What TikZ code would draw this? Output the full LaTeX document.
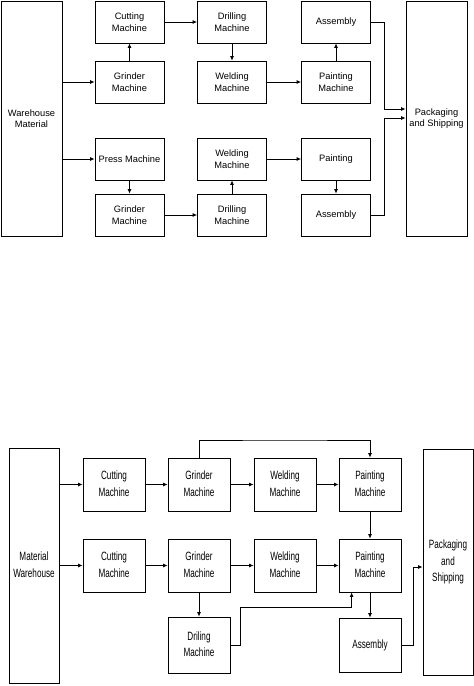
\documentclass[tikz,border=0pt]{standalone}
\usepackage{fontspec}
\setmainfont{Liberation Sans}
\usepackage{graphicx}
\usetikzlibrary{arrows.meta}
\newcommand{\narrowtxt}[1]{\scalebox{0.68}[1]{\begin{tabular}{@{}c@{}}#1\end{tabular}}}
\tikzset{
  box/.style={draw,line width=.8pt,minimum width=69pt,minimum height=42pt,align=center,
    inner sep=1pt,font=\fontsize{9.3}{11.5}\selectfont},
  tallbox/.style={box,minimum width=61pt,minimum height=235pt},
  nbox/.style={draw,line width=.8pt,minimum width=62pt,minimum height=53pt,inner sep=1pt,
    font=\fontsize{12}{16.5}\selectfont},
  flow/.style={line width=.8pt,-{Latex[length=4.5pt,width=4pt]}}
}

\begin{document}
\begin{tikzpicture}[x=1pt,y=-1pt]
          \useasboundingbox (0,0) rectangle (474,686);
          % first layout
          \begin{scope}
            \node[tallbox] (wm) at (31.5,118.5) {Warehouse\\Material};
            \node[tallbox] (pack) at (436.5,118.5) {Packaging\\and Shipping};
            \node[box] (cut) at (129.5,22) {Cutting\\Machine};
            \node[box] (gr1) at (129.5,82) {Grinder\\Machine};
            \node[box] (dri) at (232,22) {Drilling\\Machine};
            \node[box] (wel) at (232,82) {Welding\\Machine};
            \node[box] (asm) at (336,22) {Assembly};
            \node[box] (pnt) at (336,82) {Painting\\Machine};
            \node[box] (press) at (129.5,159) {Press Machine};
            \node[box] (gr2) at (129.5,215) {Grinder\\Machine};
            \node[box] (wel2) at (232,159) {Welding\\Machine};
            \node[box] (dri2) at (232,215) {Drilling\\Machine};
            \node[box] (pnt2) at (336,159) {Painting};
            \node[box] (asm2) at (336,215) {Assembly};
            \coordinate (j1) at (384,109);
            \coordinate (j2) at (384,118);
            \draw[flow] (wm.east|-gr1) -- (gr1);
            \draw[flow] (gr1) -- (cut);
            \draw[flow] (cut) -- (dri);
            \draw[flow] (dri) -- (wel);
            \draw[flow] (wel) -- (pnt);
            \draw[flow] (pnt) -- (asm);
            \draw[flow] (asm.east) -| (j1) -- (j1-|pack.west);
            \draw[flow] (wm.east|-press) -- (press);
            \draw[flow] (press) -- (gr2);
            \draw[flow] (gr2) -- (dri2);
            \draw[flow] (dri2) -- (wel2);
            \draw[flow] (wel2) -- (pnt2);
            \draw[flow] (pnt2) -- (asm2);
            \draw[flow] (asm2.east) -| (j2) -- (j2-|pack.west);
          \end{scope}
          % second layout
          \begin{scope}
            \node[nbox,minimum width=50pt,minimum height=235pt] (mw) at (34,565.5) {\narrowtxt{Material\\Warehouse}};
            \node[nbox,minimum width=50pt,minimum height=226pt] (pk) at (448,562) {\narrowtxt{Packaging\\and\\Shipping}};
            \node[nbox] (c1) at (114,484.5) {\narrowtxt{Cutting\\Machine}};
            \node[nbox] (g1) at (199,484.5) {\narrowtxt{Grinder\\Machine}};
            \node[nbox] (w1) at (285,484.5) {\narrowtxt{Welding\\Machine}};
            \node[nbox] (p1) at (370,484.5) {\narrowtxt{Painting\\Machine}};
            \node[nbox] (c2) at (114,565.5) {\narrowtxt{Cutting\\Machine}};
            \node[nbox] (g2) at (199,565.5) {\narrowtxt{Grinder\\Machine}};
            \node[nbox] (w2) at (285,565.5) {\narrowtxt{Welding\\Machine}};
            \node[nbox] (p2) at (370,565.5) {\narrowtxt{Painting\\Machine}};
            \node[nbox,minimum height=56pt] (dr) at (199,645) {\narrowtxt{Driling\\Machine}};
            \node[nbox,minimum height=54pt] (as) at (370,645) {\narrowtxt{Assembly}};
            \coordinate (jt) at (285,440);
            \coordinate (jd) at (240,607);
            \coordinate (pin) at ([xshift=13pt]p2.south west);
            \coordinate (ja) at (413,567);
            \draw[flow] (mw.east|-c1) -- (c1);
            \draw[flow] (c1) -- (g1);
            \draw[flow] (g1) -- (w1);
            \draw[flow] (w1) -- (p1);
            \draw[flow] (g1.north) |- (jt) -| (p1.north);
            \draw[flow] (p1) -- (p2);
            \draw[flow] (mw.east|-c2) -- (c2);
            \draw[flow] (c2) -- (g2);
            \draw[flow] (g2) -- (w2);
            \draw[flow] (w2) -- (p2);
            \draw[flow] (g2) -- (dr);
            \draw[flow] (dr.east) -| (jd) -| (pin);
            \draw[flow] (p2) -- (as);
            \draw[flow] (as.east) -| (ja) -- (ja-|pk.west);
          \end{scope}
        \end{tikzpicture}
\end{document}
